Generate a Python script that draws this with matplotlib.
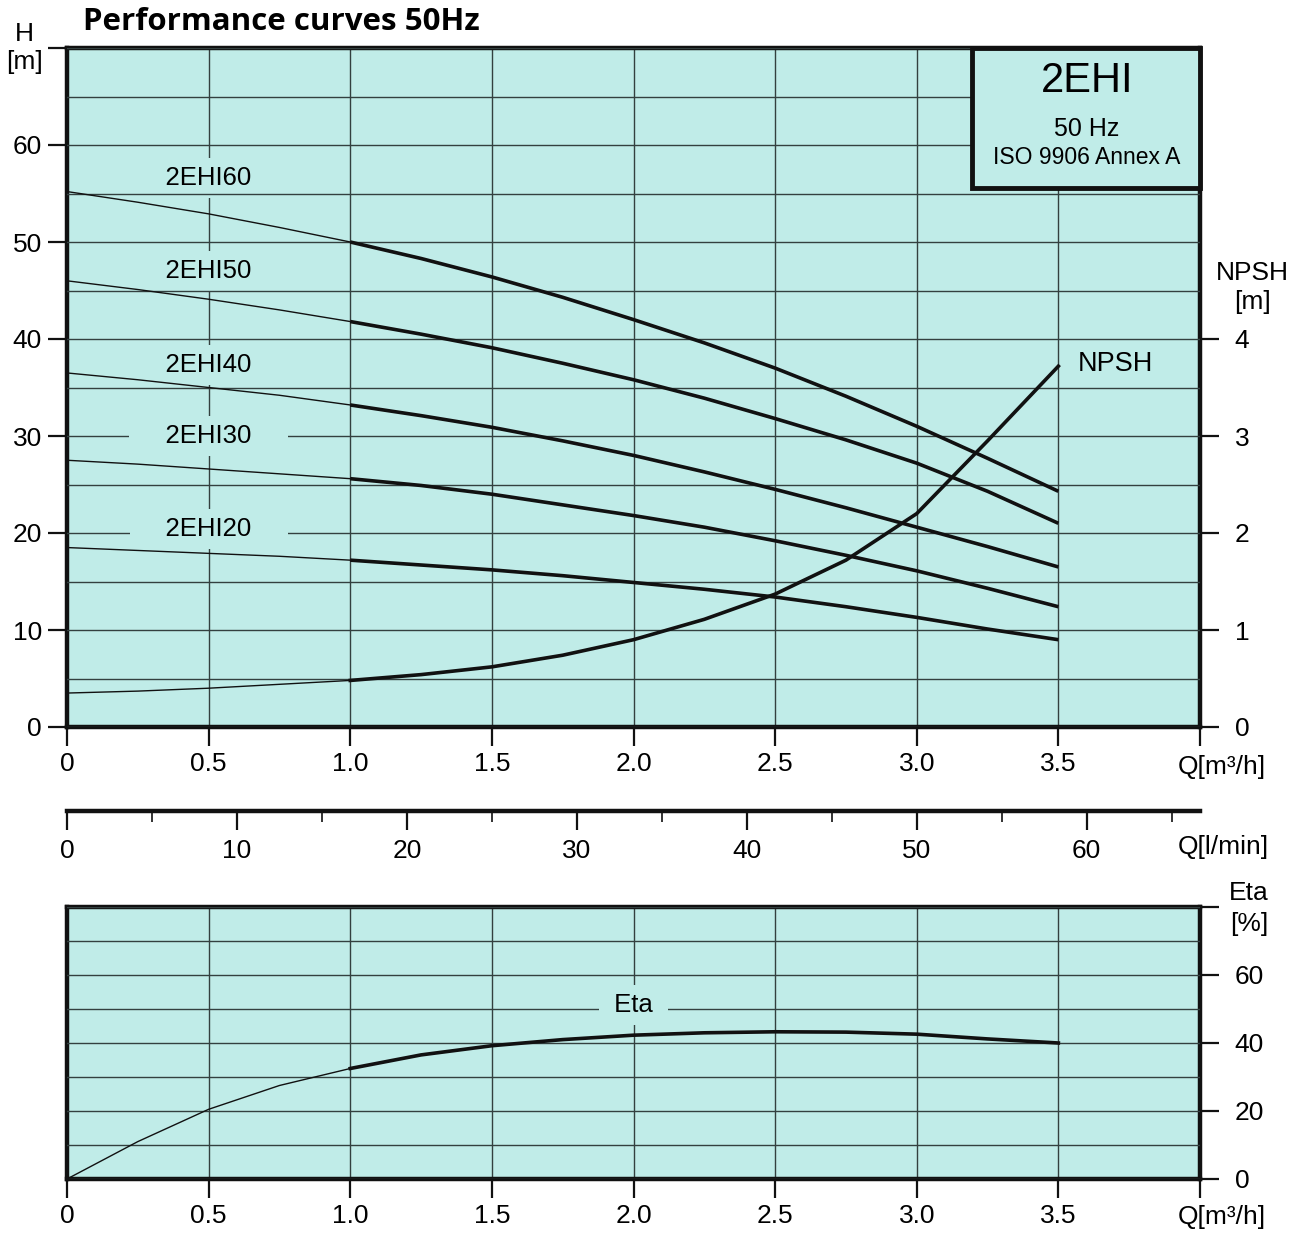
import numpy as np
import matplotlib
matplotlib.use("Agg")
import matplotlib.pyplot as plt
from matplotlib.patches import Rectangle
from matplotlib.ticker import MultipleLocator

plt.rcParams['font.family'] = ['Liberation Sans', 'DejaVu Sans']

# ---------------- data ----------------
Q = [0, 0.25, 0.5, 0.75, 1.0, 1.25, 1.5, 1.75, 2.0, 2.25, 2.5, 2.75, 3.0, 3.25, 3.5]
H_2EHI60 = [55.2, 54.1, 52.9, 51.5, 50.0, 48.3, 46.4, 44.3, 42.0, 39.6, 37.0, 34.1, 31.0, 27.7, 24.3]
H_2EHI50 = [46.0, 45.1, 44.1, 43.0, 41.8, 40.5, 39.1, 37.5, 35.8, 33.9, 31.8, 29.6, 27.2, 24.3, 21.0]
H_2EHI40 = [36.5, 35.8, 35.0, 34.2, 33.2, 32.1, 30.9, 29.5, 28.0, 26.3, 24.5, 22.6, 20.6, 18.6, 16.5]
H_2EHI30 = [27.5, 27.1, 26.6, 26.1, 25.6, 24.9, 24.0, 22.9, 21.8, 20.6, 19.2, 17.7, 16.1, 14.3, 12.4]
H_2EHI20 = [18.5, 18.2, 17.9, 17.6, 17.2, 16.7, 16.2, 15.6, 14.9, 14.2, 13.4, 12.4, 11.3, 10.1, 9.0]
NPSH = [0.35, 0.37, 0.40, 0.44, 0.48, 0.54, 0.62, 0.74, 0.90, 1.11, 1.37, 1.72, 2.20, 2.95, 3.72]
ETA = [0, 11.0, 20.5, 27.5, 32.5, 36.5, 39.2, 41.0, 42.3, 43.0, 43.3, 43.2, 42.6, 41.2, 40.0]

curve_names = ['2EHI60', '2EHI50', '2EHI40', '2EHI30', '2EHI20']
curve_values = [H_2EHI60, H_2EHI50, H_2EHI40, H_2EHI30, H_2EHI20]
label_pos = [(0.5, 56.6), (0.5, 47.0), (0.5, 37.3), (0.5, 30.0), (0.5, 20.4)]
# whether the label's mask also hides the horizontal grid line it sits on
label_hides_hgrid = [False, False, False, True, True]

q_ticks = [0, 0.5, 1.0, 1.5, 2.0, 2.5, 3.0, 3.5, 4.0]
q_ticklabels = ['0', '0.5', '1.0', '1.5', '2.0', '2.5', '3.0', '3.5', '']
h_ticks = [0, 10, 20, 30, 40, 50, 60, 70]
h_ticklabels = ['0', '10', '20', '30', '40', '50', '60', '']
npsh_ticks = [0, 1, 2, 3, 4]
lmin_ticks = [0, 10, 20, 30, 40, 50, 60]
eta_ticks = [0, 20, 40, 60, 80]
eta_ticklabels = ['0', '20', '40', '60', '']

SPLIT = 4  # index where thin part ends / thick part starts (Q = 1.0)

# ---------------- style ----------------
W, Hh = 1306, 1233
BG = '#c0ece8'
GRID = '#33403f'
FS = 19

fig = plt.figure(figsize=(W / 100, Hh / 100), dpi=100)

def fx(px):
    return px / W

def fy(py):
    return 1 - py / Hh

def style_axes(ax):
    ax.set_facecolor(BG)
    for s in ax.spines.values():
        s.set_linewidth(3.2)
        s.set_color('#111111')
    ax.set_axisbelow(True)
    ax.grid(which='both', color=GRID, linewidth=1.0)
    ax.tick_params(which='major', direction='out', length=14, width=1.6,
                   labelsize=FS, pad=4, color='#111111')
    ax.tick_params(which='minor', length=0)
    # horizontal grid above low masks, vertical grid below all masks
    ax.xaxis.set_zorder(0.5)
    ax.yaxis.set_zorder(2.5)

# ---------------- main H axes ----------------
ax = fig.add_axes([fx(67), fy(727), fx(1200 - 67), (727 - 48) / Hh])
ax.set_xlim(0, 4)
ax.set_ylim(0, 70)
style_axes(ax)
ax.set_xticks(q_ticks)
ax.set_xticklabels(q_ticklabels)
ax.set_yticks(h_ticks)
ax.set_yticklabels(h_ticklabels)
ax.yaxis.set_minor_locator(MultipleLocator(5))

for name, vals, (lx, ly), hide in zip(curve_names, curve_values, label_pos, label_hides_hgrid):
    ax.plot(Q[:SPLIT + 1], vals[:SPLIT + 1], color='#111111', lw=1.0, zorder=3)
    ax.plot(Q[SPLIT:], vals[SPLIT:], color='#111111', lw=2.6, zorder=3,
            solid_capstyle='butt')
    ax.text(lx, ly, '    ' + name + '    ', ha='center', va='center', fontsize=18.5,
            zorder=2.7 if hide else 2,
            bbox=dict(boxstyle='square,pad=0.3', fc=BG, ec='none'))

# info box
ax.add_patch(Rectangle((3.194, 55.6), 4.0 - 3.194, 70 - 55.6, fc=BG, ec='#111111',
                       lw=3.5, zorder=5, clip_on=False))
ax.text(3.60, 66.6, '2EHI', ha='center', va='center', fontsize=30, zorder=6)
ax.text(3.60, 61.6, '50 Hz', ha='center', va='center', fontsize=18, zorder=6)
ax.text(3.60, 58.7, 'ISO 9906 Annex A', ha='center', va='center', fontsize=16.5, zorder=6)

# NPSH on right axis
ax2 = ax.twinx()
ax2.set_ylim(0, 7)
ax2.set_yticks(npsh_ticks)
ax2.set_yticklabels([str(t) for t in npsh_ticks])
ax2.tick_params(direction='out', length=14, width=1.6, labelsize=FS, pad=11,
                color='#111111')
for s in ax2.spines.values():
    s.set_visible(False)
ax2.plot(Q[:SPLIT + 1], NPSH[:SPLIT + 1], color='#111111', lw=1.0, zorder=3)
ax2.plot(Q[SPLIT:], NPSH[SPLIT:], color='#111111', lw=2.6, zorder=3)
ax2.text(3.70, 3.74, 'NPSH', ha='center', va='center', fontsize=19.5, zorder=4)

# ---------------- l/min axis ----------------
axq = fig.add_axes([fx(67), fy(811), fx(1200 - 67), 0.0005])
axq.set_xlim(0, 4.0 * 1000 / 60)
axq.set_ylim(0, 1)
axq.patch.set_visible(False)
for k in ['left', 'right', 'top']:
    axq.spines[k].set_visible(False)
axq.spines['bottom'].set_linewidth(3.2)
axq.spines['bottom'].set_color('#111111')
axq.set_yticks([])
axq.set_xticks(lmin_ticks)
axq.set_xticklabels([str(t) for t in lmin_ticks])
axq.xaxis.set_minor_locator(MultipleLocator(5))
axq.tick_params(which='major', direction='out', length=14, width=1.6, labelsize=FS,
                pad=6, color='#111111')
axq.tick_params(which='minor', direction='out', length=8, width=1.2, color='#111111')

# ---------------- Eta axes ----------------
axe = fig.add_axes([fx(67), fy(1179), fx(1200 - 67), (1179 - 907) / Hh])
axe.set_xlim(0, 4)
axe.set_ylim(0, 80)
style_axes(axe)
axe.set_xticks(q_ticks)
axe.set_xticklabels(q_ticklabels)
axe.yaxis.tick_right()
axe.set_yticks(eta_ticks)
axe.set_yticklabels(eta_ticklabels)
axe.yaxis.set_minor_locator(MultipleLocator(10))
axe.tick_params(axis='y', which='major', pad=11)
axe.plot(Q[:SPLIT + 1], ETA[:SPLIT + 1], color='#111111', lw=1.0, zorder=3)
axe.plot(Q[SPLIT:], ETA[SPLIT:], color='#111111', lw=2.6, zorder=3)
axe.text(2.0, 51.2, ' Eta ', ha='center', va='center', fontsize=18.5, zorder=2.7,
         bbox=dict(boxstyle='square,pad=0.3', fc=BG, ec='none'))

# ---------------- outer texts ----------------
fig.text(fx(83), fy(22), 'Performance curves 50Hz', ha='left', va='center',
         fontsize=22.5, fontweight='bold', family=['Open Sans', 'DejaVu Sans'])
fig.text(fx(24), fy(34), 'H', ha='center', va='center', fontsize=FS)
fig.text(fx(25), fy(62), '[m]', ha='center', va='center', fontsize=FS)
fig.text(fx(1252), fy(273), 'NPSH', ha='center', va='center', fontsize=FS)
fig.text(fx(1252), fy(302), '[m]', ha='center', va='center', fontsize=FS)
fig.text(fx(1249), fy(893), 'Eta', ha='center', va='center', fontsize=FS)
fig.text(fx(1249), fy(924), '[%]', ha='center', va='center', fontsize=FS)
fig.text(fx(1178), fy(767), 'Q[m³/h]', ha='left', va='center', fontsize=FS)
fig.text(fx(1178), fy(847), 'Q[l/min]', ha='left', va='center', fontsize=FS)
fig.text(fx(1178), fy(1217), 'Q[m³/h]', ha='left', va='center', fontsize=FS)

fig.savefig('out.png', dpi=100, facecolor='white')
